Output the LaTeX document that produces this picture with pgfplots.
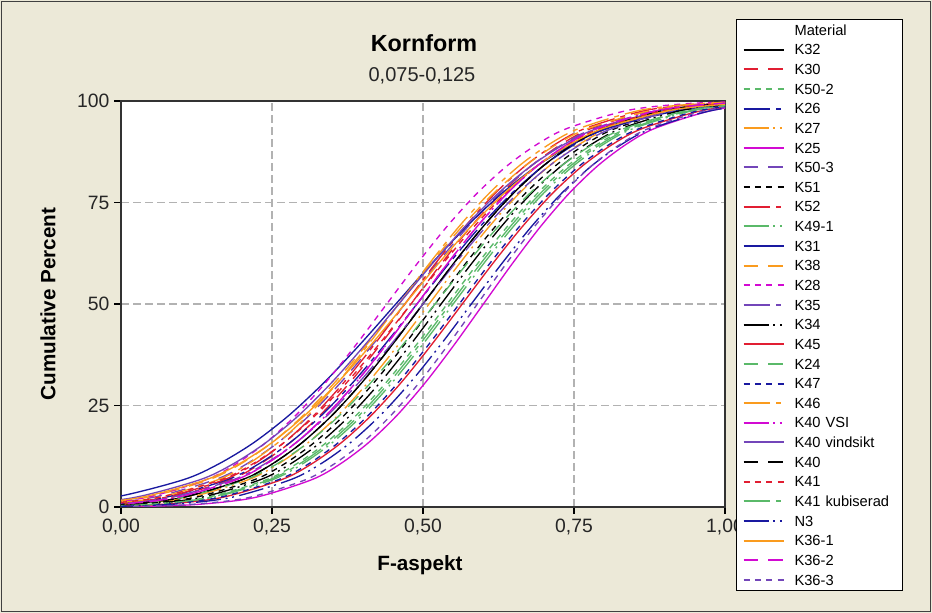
\documentclass[border=0pt]{standalone}
\usepackage{pgfplots}
\pgfplotsset{compat=1.18}
\usepackage{pgfplotstable}
\usepackage{fontspec}
\setmainfont{Liberation Sans}

\definecolor{mtbg}{RGB}{236,233,216}
\definecolor{mtblack}{RGB}{0,0,0}
\definecolor{mtred}{RGB}{225,30,50}
\definecolor{mtgreen}{RGB}{90,185,105}
\definecolor{mtblue}{RGB}{25,25,160}
\definecolor{mtorange}{RGB}{250,155,30}
\definecolor{mtmagenta}{RGB}{210,10,210}
\definecolor{mtpurple}{RGB}{115,70,185}

\tikzset{
    ls1/.style={solid},
    ls2/.style={dash pattern=on 11pt off 7.5pt},
    ls3/.style={dash pattern=on 4.5pt off 4pt},
    ls4/.style={dash pattern=on 20pt off 4.5pt on 3.75pt off 4.5pt},
    ls5/.style={dash pattern=on 18.75pt off 3.5pt on 1.5pt off 3.5pt on 1.5pt off 4pt},
    cdf/.style={line width=1pt, smooth},
}

% cumulative percent p, and the F-aspekt value of each material at that percent
\pgfplotstableread{
p     k32   k30   k502  k26    k27  k25    k503   k51  k52  k491 k31     k38    k28  k35    k34  k45   k24    k47  k46  kvsi kvind k40  k41    kkub  n3   k361  k362 k363
0.13  -0.10 -0.12 -0.06 -0.14  -0.09 0.03  -0.16  -0.08 -0.13 -0.05 -0.25 -0.17  -0.16 -0.13 -0.07 -0.035 -0.11 -0.04 -0.14 -0.11 -0.20 -0.10 -0.15 -0.055 -0.02 -0.19 -0.11 0.02
0.62  0     -0.02 0.04  -0.035 0.01 0.125  -0.055 0.02 -0.03 0.05 -0.1325 -0.065 -0.06 -0.025 0.03 0.065 -0.005 0.06 -0.04 -0.01 -0.09 0 -0.045 0.045 0.08 -0.08 -0.01 0.115
2.28  0.10  0.08  0.14  0.07   0.11 0.22   0.05   0.12 0.07 0.15 -0.015  0.04   0.04 0.08   0.13 0.165 0.10   0.16 0.06 0.09 0.02  0.10 0.06   0.145 0.18 0.03  0.09 0.21
6.68  0.20  0.18  0.24  0.175  0.21 0.315  0.155  0.22 0.17 0.25 0.1025  0.145  0.14 0.185  0.23 0.265 0.205  0.26 0.16 0.19 0.13  0.20 0.165  0.245 0.28 0.14  0.19 0.305
10.56 0.25  0.23  0.29  0.2275 0.26 0.3625 0.2075 0.27 0.22 0.30 0.1612  0.1975 0.19 0.2375 0.28 0.315 0.2575 0.31 0.21 0.24 0.185 0.25 0.2175 0.295 0.33 0.195 0.24 0.3525
15.87 0.30  0.28  0.34  0.28   0.31 0.41   0.26   0.32 0.27 0.35 0.22    0.25   0.24 0.29   0.33 0.365 0.31   0.36 0.26 0.29 0.24  0.30 0.27   0.345 0.38 0.25  0.29 0.40
22.66 0.35  0.33  0.39  0.3325 0.36 0.4575 0.3125 0.37 0.32 0.40 0.2787  0.3025 0.29 0.3425 0.38 0.415 0.3625 0.41 0.31 0.34 0.295 0.35 0.3225 0.395 0.43 0.305 0.34 0.4475
30.85 0.40  0.38  0.44  0.385  0.41 0.505  0.365  0.42 0.37 0.45 0.3375  0.355  0.34 0.395  0.43 0.465 0.415  0.46 0.36 0.39 0.35  0.40 0.375  0.445 0.48 0.36  0.39 0.495
40.13 0.45  0.43  0.49  0.4375 0.46 0.5525 0.4175 0.47 0.42 0.50 0.3962  0.4075 0.39 0.4475 0.48 0.515 0.4675 0.51 0.41 0.44 0.405 0.45 0.4275 0.495 0.53 0.415 0.44 0.5425
50    0.50  0.48  0.54  0.49   0.51 0.60   0.47   0.52 0.47 0.55 0.455   0.46   0.44 0.50   0.53 0.565 0.52   0.56 0.46 0.49 0.46  0.50 0.48   0.545 0.58 0.47  0.49 0.59
59.87 0.55  0.53  0.59  0.5425 0.56 0.6475 0.5225 0.57 0.52 0.60 0.5138  0.5125 0.49 0.5525 0.58 0.615 0.5725 0.61 0.51 0.54 0.515 0.55 0.5325 0.595 0.63 0.525 0.54 0.6375
69.15 0.60  0.58  0.64  0.595  0.61 0.695  0.575  0.62 0.57 0.65 0.5725  0.565  0.54 0.605  0.63 0.665 0.625  0.66 0.56 0.59 0.57  0.60 0.585  0.645 0.68 0.58  0.59 0.685
77.34 0.65  0.63  0.69  0.6475 0.66 0.7425 0.6275 0.67 0.62 0.70 0.6313  0.6175 0.59 0.6575 0.68 0.715 0.6775 0.71 0.61 0.64 0.625 0.65 0.6375 0.695 0.73 0.635 0.64 0.7325
84.13 0.70  0.68  0.74  0.70   0.71 0.79   0.68   0.72 0.67 0.75 0.69    0.67   0.64 0.71   0.73 0.765 0.73   0.76 0.66 0.69 0.68  0.70 0.69   0.745 0.78 0.69  0.69 0.78
89.44 0.75  0.73  0.79  0.7525 0.76 0.8375 0.7325 0.77 0.72 0.80 0.7488  0.7225 0.69 0.7625 0.78 0.815 0.7825 0.81 0.71 0.74 0.735 0.75 0.7425 0.795 0.83 0.745 0.74 0.8275
93.32 0.80  0.78  0.84  0.805  0.81 0.885  0.785  0.82 0.77 0.85 0.8075  0.775  0.74 0.815  0.83 0.865 0.835  0.86 0.76 0.79 0.79  0.80 0.795  0.845 0.88 0.80  0.79 0.875
97.72 0.90  0.88  0.94  0.91   0.91 0.98   0.89   0.92 0.87 0.95 0.925   0.88   0.84 0.92   0.93 0.965 0.94   0.96 0.86 0.89 0.90  0.90 0.90   0.945 0.98 0.91  0.89 0.97
99.38 1.00  0.98  1.04  1.015  1.01 1.075  0.995  1.02 0.97 1.05 1.0425  0.985  0.94 1.025  1.03 1.065 1.045  1.06 0.96 0.99 1.01  1.00 1.005  1.045 1.08 1.02  0.99 1.065
99.87 1.10  1.08  1.14  1.12   1.11 1.17   1.10   1.12 1.07 1.15 1.16    1.09   1.04 1.13   1.13 1.165 1.15   1.16 1.06 1.09 1.12  1.10 1.11   1.145 1.18 1.13  1.09 1.16
}\cdf

\begin{document}
\begin{tikzpicture}
\useasboundingbox (0,0) rectangle (699pt,459.75pt);
\fill[mtbg] (0,0) rectangle (699pt,459.75pt);
\draw[black!75, line width=1.2pt] (1pt,1pt) rectangle (698pt,458.75pt);

\node[font=\fontsize{17.5}{20}\selectfont\bfseries, anchor=base] at (318pt,420.75pt) {Kornform};
\node[font=\fontsize{15}{18}\selectfont, anchor=base, text=black!85] at (316.5pt,398.25pt) {0,075-0,125};

\begin{axis}[
    at={(90.75pt,79.5pt)}, anchor=south west,
    scale only axis, width=453pt, height=304.5pt,
    xmin=0, xmax=1, ymin=0, ymax=100,
    xtick={0,0.25,0.5,0.75,1},
    xticklabels={{0,00},{0,25},{0,50},{0,75},{1,00}},
    ytick={0,25,50,75,100},
    yticklabels={0,25,50,75,100},
    /pgf/number format/assume math mode=true,
    tick align=outside, tick pos=left,
    major tick length=5.25pt,
    every tick/.style={black, line width=1pt},
    ticklabel style={font=\fontsize{14.5}{16}\selectfont, text=black!85},
    grid=major,
    grid style={black!30, line width=0.8pt, dash pattern=on 6pt off 3pt},
    axis line style={black!80, line width=1.2pt},
    axis background/.style={fill=white},
    xlabel={F-aspekt}, ylabel={Cumulative Percent},
    label style={font=\fontsize{15.5}{18}\selectfont\bfseries},
    xlabel style={at={(0.495,-0.143)}, anchor=center},
    ylabel style={at={(-0.121,0.5)}, anchor=center},
    legend cell align=left,
    legend image code/.code={\draw[#1, line width=1.5pt] (0pt,0pt) -- (30pt,0pt);},
    legend style={
        at={(1.0182,1.202)}, anchor=north west,
        draw=black, line width=0.8pt, fill=white,
        inner xsep=4.5pt, inner ysep=0.5pt,
        row sep=0pt, column sep=0pt,
        font=\fontsize{11}{13}\selectfont,
        nodes={inner sep=0pt, text height=11.25pt, text depth=3.48pt, text width=76.5pt},
        /tikz/every odd column/.append style={column sep=7.5pt},
    },
]
\addlegendimage{empty legend}\addlegendentry{Material}
\addplot[cdf, mtblack, ls1]   table[x=k32,  y=p] {\cdf}; \addlegendentry{K32}
\addplot[cdf, mtred, ls2]     table[x=k30,  y=p] {\cdf}; \addlegendentry{K30}
\addplot[cdf, mtgreen, ls3]   table[x=k502, y=p] {\cdf}; \addlegendentry{K50-2}
\addplot[cdf, mtblue, ls4]    table[x=k26,  y=p] {\cdf}; \addlegendentry{K26}
\addplot[cdf, mtorange, ls5]  table[x=k27,  y=p] {\cdf}; \addlegendentry{K27}
\addplot[cdf, mtmagenta, ls1] table[x=k25,  y=p] {\cdf}; \addlegendentry{K25}
\addplot[cdf, mtpurple, ls2]  table[x=k503, y=p] {\cdf}; \addlegendentry{K50-3}
\addplot[cdf, mtblack, ls3]   table[x=k51,  y=p] {\cdf}; \addlegendentry{K51}
\addplot[cdf, mtred, ls4]     table[x=k52,  y=p] {\cdf}; \addlegendentry{K52}
\addplot[cdf, mtgreen, ls5]   table[x=k491, y=p] {\cdf}; \addlegendentry{K49-1}
\addplot[cdf, mtblue, ls1]    table[x=k31,  y=p] {\cdf}; \addlegendentry{K31}
\addplot[cdf, mtorange, ls2]  table[x=k38,  y=p] {\cdf}; \addlegendentry{K38}
\addplot[cdf, mtmagenta, ls3] table[x=k28,  y=p] {\cdf}; \addlegendentry{K28}
\addplot[cdf, mtpurple, ls4]  table[x=k35,  y=p] {\cdf}; \addlegendentry{K35}
\addplot[cdf, mtblack, ls5]   table[x=k34,  y=p] {\cdf}; \addlegendentry{K34}
\addplot[cdf, mtred, ls1]     table[x=k45,  y=p] {\cdf}; \addlegendentry{K45}
\addplot[cdf, mtgreen, ls2]   table[x=k24,  y=p] {\cdf}; \addlegendentry{K24}
\addplot[cdf, mtblue, ls3]    table[x=k47,  y=p] {\cdf}; \addlegendentry{K47}
\addplot[cdf, mtorange, ls4]  table[x=k46,  y=p] {\cdf}; \addlegendentry{K46}
\addplot[cdf, mtmagenta, ls5] table[x=kvsi, y=p] {\cdf}; \addlegendentry{K40 VSI}
\addplot[cdf, mtpurple, ls1]  table[x=kvind,y=p] {\cdf}; \addlegendentry{K40 vindsikt}
\addplot[cdf, mtblack, ls2]   table[x=k40,  y=p] {\cdf}; \addlegendentry{K40}
\addplot[cdf, mtred, ls3]     table[x=k41,  y=p] {\cdf}; \addlegendentry{K41}
\addplot[cdf, mtgreen, ls4]   table[x=kkub, y=p] {\cdf}; \addlegendentry{K41 kubiserad}
\addplot[cdf, mtblue, ls5]    table[x=n3,   y=p] {\cdf}; \addlegendentry{N3}
\addplot[cdf, mtorange, ls1]  table[x=k361, y=p] {\cdf}; \addlegendentry{K36-1}
\addplot[cdf, mtmagenta, ls2] table[x=k362, y=p] {\cdf}; \addlegendentry{K36-2}
\addplot[cdf, mtpurple, ls3]  table[x=k363, y=p] {\cdf}; \addlegendentry{K36-3}
\end{axis}
\end{tikzpicture}
\end{document}
